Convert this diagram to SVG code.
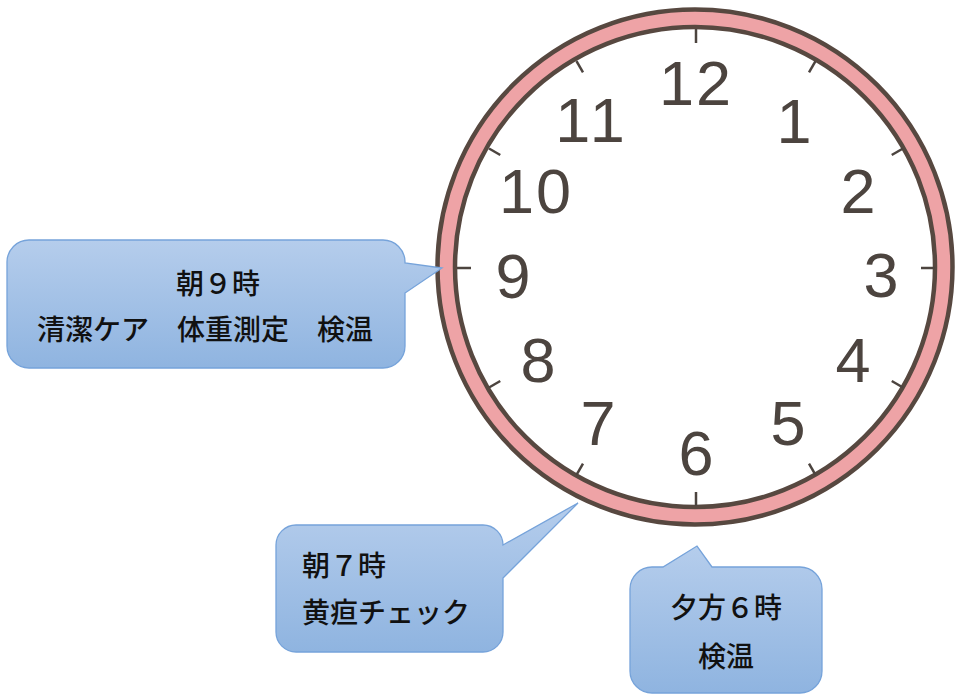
<svg xmlns="http://www.w3.org/2000/svg" width="958" height="696" viewBox="0 0 958 696">
<defs>
<linearGradient id="bub" x1="0" y1="0" x2="0" y2="1">
<stop offset="0" stop-color="#b5cdec"/>
<stop offset="1" stop-color="#8fb4e0"/>
</linearGradient>
<style>
.num{font-family:"Liberation Sans",Arial,sans-serif;font-size:63px;fill:#4c443f;text-anchor:middle}
.tick{stroke:#4c443f;stroke-width:2.5}
.bub{fill:url(#bub);stroke:#76a3da;stroke-width:1.3}
.lbl{font-family:"Noto Sans CJK JP","Noto Sans CJK SC",sans-serif;font-size:28px;font-weight:500;fill:#111}
</style>
</defs>
<rect width="958" height="696" fill="#fff"/>
<g id="clock">
<circle cx="695" cy="267" r="249" fill="#fff" stroke="#eea3a6" stroke-width="20"/>
<circle cx="695" cy="267" r="257.5" fill="none" stroke="#574840" stroke-width="4.5"/>
<circle cx="695" cy="267" r="240" fill="none" stroke="#574840" stroke-width="4.5"/>
<g id="ticks">
<line class="tick" x1="696" y1="29" x2="696" y2="43"/>
<line class="tick" x1="696" y1="492" x2="696" y2="506"/>
<line class="tick" x1="457" y1="268" x2="471" y2="268"/>
<line class="tick" x1="921" y1="268" x2="935" y2="268"/>
<g transform="translate(696,268)">
<line class="tick" x1="0" y1="-239" x2="0" y2="-226" transform="rotate(30)"/>
<line class="tick" x1="0" y1="-239" x2="0" y2="-226" transform="rotate(60)"/>
<line class="tick" x1="0" y1="-239" x2="0" y2="-226" transform="rotate(120)"/>
<line class="tick" x1="0" y1="-239" x2="0" y2="-226" transform="rotate(150)"/>
<line class="tick" x1="0" y1="-239" x2="0" y2="-226" transform="rotate(210)"/>
<line class="tick" x1="0" y1="-239" x2="0" y2="-226" transform="rotate(240)"/>
<line class="tick" x1="0" y1="-239" x2="0" y2="-226" transform="rotate(300)"/>
<line class="tick" x1="0" y1="-239" x2="0" y2="-226" transform="rotate(330)"/>
</g>
</g>
<g id="numbers">
<text class="num" x="696" y="105" letter-spacing="2">12</text>
<text class="num" x="794" y="143">1</text>
<text class="num" x="858" y="213">2</text>
<text class="num" x="881" y="297">3</text>
<text class="num" x="853" y="382">4</text>
<text class="num" x="788" y="445">5</text>
<text class="num" x="696" y="475">6</text>
<text class="num" x="598" y="445">7</text>
<text class="num" x="538" y="382">8</text>
<text class="num" x="513" y="298">9</text>
<text class="num" x="536" y="213" letter-spacing="2">10</text>
<text class="num" x="592" y="142" letter-spacing="4">11</text>
</g>
</g>
<g id="callout-9">
<path class="bub" d="M29,240 H383 A22,22 0 0 1 405,262 V263 L442,268 L405,293 V346 A22,22 0 0 1 383,368 H29 A22,22 0 0 1 7,346 V262 A22,22 0 0 1 29,240 Z"/>
<text class="lbl" x="218" y="294" text-anchor="middle">朝９時</text>
<text class="lbl" x="205" y="340" text-anchor="middle">清潔ケア　体重測定　検温</text>
</g>
<g id="callout-7">
<path class="bub" d="M296,525 H483 A20,20 0 0 1 503,545 L578,503 L503,578 V632 A20,20 0 0 1 483,652 H296 A20,20 0 0 1 276,632 V545 A20,20 0 0 1 296,525 Z"/>
<text class="lbl" x="302" y="576">朝７時</text>
<text class="lbl" x="302" y="623">黄疸チェック</text>
</g>
<g id="callout-6">
<path class="bub" d="M652,567 H663 L697,546 L712,567 H800 A22,22 0 0 1 822,589 V671 A22,22 0 0 1 800,693 H652 A22,22 0 0 1 630,671 V589 A22,22 0 0 1 652,567 Z"/>
<text class="lbl" x="726" y="618" text-anchor="middle">夕方６時</text>
<text class="lbl" x="726" y="667" text-anchor="middle">検温</text>
</g>
</svg>
